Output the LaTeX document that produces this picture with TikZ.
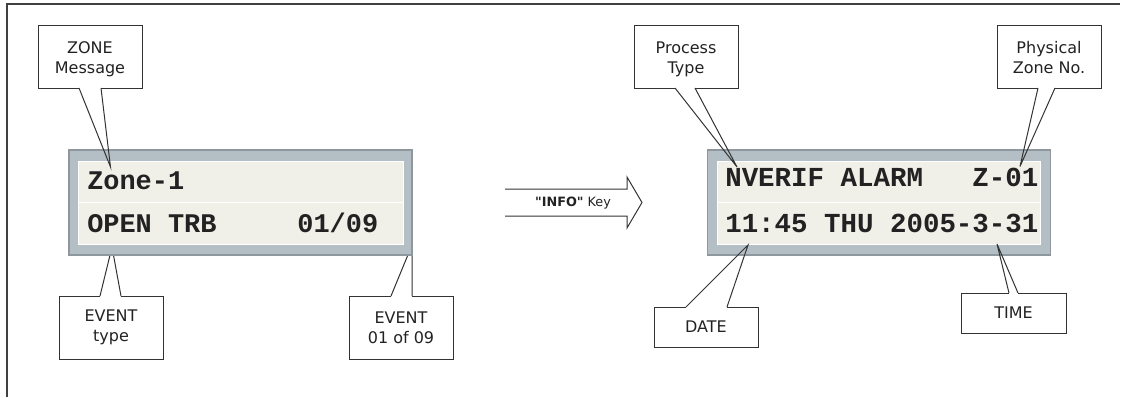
\documentclass[tikz,border=0pt]{standalone}
\usepackage{fontspec}
\setmainfont{DejaVu Sans}
\setmonofont{Liberation Mono}
\newfontfamily\keyfont{DejaVu Sans}
\usetikzlibrary{fit}
\definecolor{lcdframe}{HTML}{B4BEC5}
\definecolor{lcdedge}{HTML}{8E979D}
\definecolor{lcdface}{HTML}{F0EFE8}
\definecolor{ink}{HTML}{222222}
\definecolor{lineink}{HTML}{333333}
\begin{document}
\begin{tikzpicture}[x=0.75pt,y=-0.75pt,
  callbox/.style={draw=lineink, line width=0.75pt, fill=white, inner sep=0pt, align=center,
    minimum width=78pt, font=\fontsize{12}{15}\selectfont, text=ink},
  tallbox/.style={callbox, minimum height=47.25pt},
  topbox/.style={tallbox, text height=25.2pt, text depth=0pt},
  flatbox/.style={callbox, minimum height=30pt},
  callline/.style={draw=lineink, line width=0.75pt, line join=miter},
  eraser/.style={draw=white, line width=1.6pt},
  lcdout/.style={draw=lcdedge, fill=lcdframe, line width=1.2pt, inner sep=0pt},
  lcdin/.style={draw=white, fill=lcdface, line width=0.75pt, inner sep=0pt},
  lcdtextL/.style={anchor=base west, inner sep=0pt, text=ink,
    font=\ttfamily\bfseries\fontsize{20.2}{24}\selectfont},
  lcdtextR/.style={anchor=base west, inner sep=0pt, text=ink,
    font=\ttfamily\bfseries\fontsize{20.6}{24}\selectfont},
  frameline/.style={draw=black!75, line width=1.5pt},
  keytext/.style={anchor=base, inner sep=0pt, text=ink, font=\keyfont\fontsize{9.6}{11}\selectfont},
]
\useasboundingbox (0,0) rectangle (1122,397);
% frame
\draw[frameline] (7,397) -- (7,4.3) -- (1120,4.3);

% callouts whose tips go under the displays
\node[tallbox] (evtype) at (111,327.5) {EVENT\\type};
\coordinate (evtypeA) at (100,296);
\coordinate (evtypeB) at (121,296);
\coordinate (evtypeT) at (112,247);
\draw[eraser] (evtypeA) -- (evtypeB);
\draw[callline] (evtypeA) -- (evtypeT) -- (evtypeB);

\node[tallbox] (evnum) at (401,327.5) {EVENT\\01 of 09};
\coordinate (evnumA) at (391,296);
\coordinate (evnumB) at (412,296);
\coordinate (evnumT) at (412,245);
\draw[eraser] (evnumA) -- (evnumB);
\draw[callline] (evnumA) -- (evnumT) -- (evnumB);

% left display
\node[lcdout, fit={(69,150) (412,255)}] (lcdL) {};
\node[lcdin, fit={(78.5,161) (403,244)}] (lcdLin) {};
\draw[white, line width=0.75pt] (lcdLin.west |- 0,202.5) coordinate (dlL) -- (lcdLin.east |- 0,202.5) coordinate (drL);
\node[lcdtextL] (l1) at (87,189) {Zone-1};
\node[lcdtextL] (l2) at (87,232) {OPEN~TRB~~~~~01/09};

% right display
\node[lcdout, fit={(707.5,150) (1050.5,255)}] (lcdR) {};
\node[lcdin, fit={(717,161) (1040.5,244)}] (lcdRin) {};
\draw[white, line width=0.75pt] (lcdRin.west |- 0,202.5) coordinate (dlR) -- (lcdRin.east |- 0,202.5) coordinate (drR);
\node[lcdtextR] (r1) at (725,186.5) {NVERIF~ALARM~~~Z-01};
\node[lcdtextR] (r2) at (725,232) {11:45~THU~2005-3-31};

% callouts drawn over the displays
\node[topbox] (zone) at (90,56.5) {ZONE\\Message};
\coordinate (zoneA) at (79,88);
\coordinate (zoneB) at (101,88);
\coordinate (zoneT) at (110.5,167);
\draw[eraser] (zoneA) -- (zoneB);
\draw[callline] (zoneA) -- (zoneT) -- (zoneB);

\node[topbox] (proc) at (686,56.5) {Process\\Type};
\coordinate (procA) at (675,88);
\coordinate (procB) at (695,88);
\coordinate (procT) at (737,167);
\draw[eraser] (procA) -- (procB);
\draw[callline] (procA) -- (procT) -- (procB);

\node[topbox] (phys) at (1049,56.5) {Physical\\Zone No.};
\coordinate (physA) at (1038,88);
\coordinate (physB) at (1055,88);
\coordinate (physT) at (1020,166.5);
\draw[eraser] (physA) -- (physB);
\draw[callline] (physA) -- (physT) -- (physB);

\node[flatbox] (date) at (706,327) {DATE};
\coordinate (dateA) at (686,307);
\coordinate (dateB) at (727,307);
\coordinate (dateT) at (748,245);
\draw[eraser] (dateA) -- (dateB);
\draw[callline] (dateA) -- (dateT) -- (dateB);

\node[flatbox, minimum width=78.75pt] (time) at (1013.5,313) {TIME};
\coordinate (timeA) at (1009,293);
\coordinate (timeB) at (1018,293);
\coordinate (timeT) at (997,244);
\draw[eraser] (timeA) -- (timeB);
\draw[callline] (timeA) -- (timeT) -- (timeB);

% INFO key arrow
\draw[callline, fill=white] (505,189) -- (627,189) -- (627,177) -- (642,202.5)
  -- (627,228) -- (627,216) -- (505,216);
\node[keytext] (infokey) at (573,206.5) {\textbf{"INFO"} Key};
\end{tikzpicture}
\end{document}
